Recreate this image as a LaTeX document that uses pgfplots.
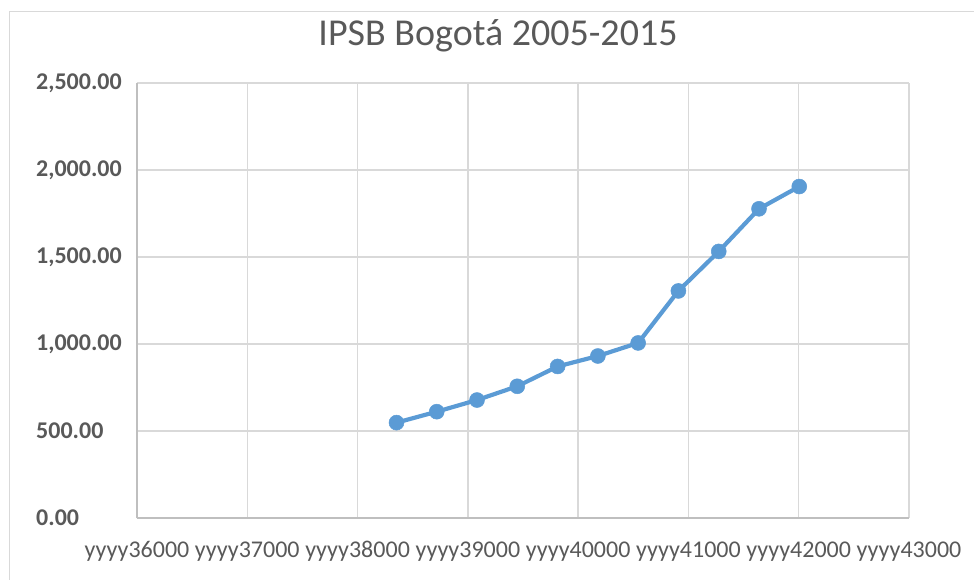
\documentclass[border=0pt]{standalone}
\usepackage{pgfplots}
\pgfplotsset{compat=1.18}
\usepackage{fontspec}
\setmainfont{Carlito}
\definecolor{txt}{HTML}{595959}
\definecolor{grd}{HTML}{D9D9D9}
\definecolor{ax}{HTML}{BFBFBF}
\definecolor{ser}{HTML}{5B9BD5}
\begin{document}
\begin{tikzpicture}
\useasboundingbox (-137bp,-62bp) rectangle (837bp,518bp);
\draw[grd, line width=1bp] (-127bp,-62bp) -- (-127bp,506bp) -- (837bp,506bp);
\begin{axis}[
  at={(0,0)}, anchor=south west,
  scale only axis, width=772bp, height=435bp,
  xmin=36000, xmax=43000, ymin=0, ymax=2500,
  scaled x ticks=false, scaled y ticks=false,
  xtick={36000,37000,38000,39000,40000,41000,42000,43000},
  xticklabels={yyyy36000,yyyy37000,yyyy38000,yyyy39000,yyyy40000,yyyy41000,yyyy42000,yyyy43000},
  ytick={0,500,1000,1500,2000,2500},
  grid=major, grid style={grd, line width=1.3bp},
  major tick length=0pt,
  axis lines=left, axis line style={-, ax, line width=1.3bp},
  xticklabel style={font=\fontsize{24bp}{28bp}\selectfont, text=txt, anchor=base, inner sep=0pt, yshift=-39bp},
  yticklabel style={font=\bfseries\fontsize{24bp}{28bp}\selectfont, text=txt, anchor=west, inner sep=0pt, xshift=-101bp,
    /pgf/number format/fixed, /pgf/number format/fixed zerofill, /pgf/number format/precision=2,
    /pgf/number format/1000 sep={,}, /pgf/number format/assume math mode=true},
  title={IPSB Bogotá 2005-2015},
  title style={font=\fontsize{38bp}{44bp}\selectfont, text=txt, anchor=base, at={(0.5,1)}, yshift=32bp, xshift=-25bp, inner sep=0pt},
  clip=false,
]
\addplot[ser, line width=4.2bp, mark=*, mark size=7.5bp, mark options={fill=ser, draw=ser, line width=0.5bp}] coordinates {
  (38353,548) (38718,611) (39083,678) (39448,757) (39814,871) (40179,931)
  (40544,1006) (40909,1305) (41275,1532) (41640,1777) (42005,1905)
};
\end{axis}
\end{tikzpicture}
\end{document}
